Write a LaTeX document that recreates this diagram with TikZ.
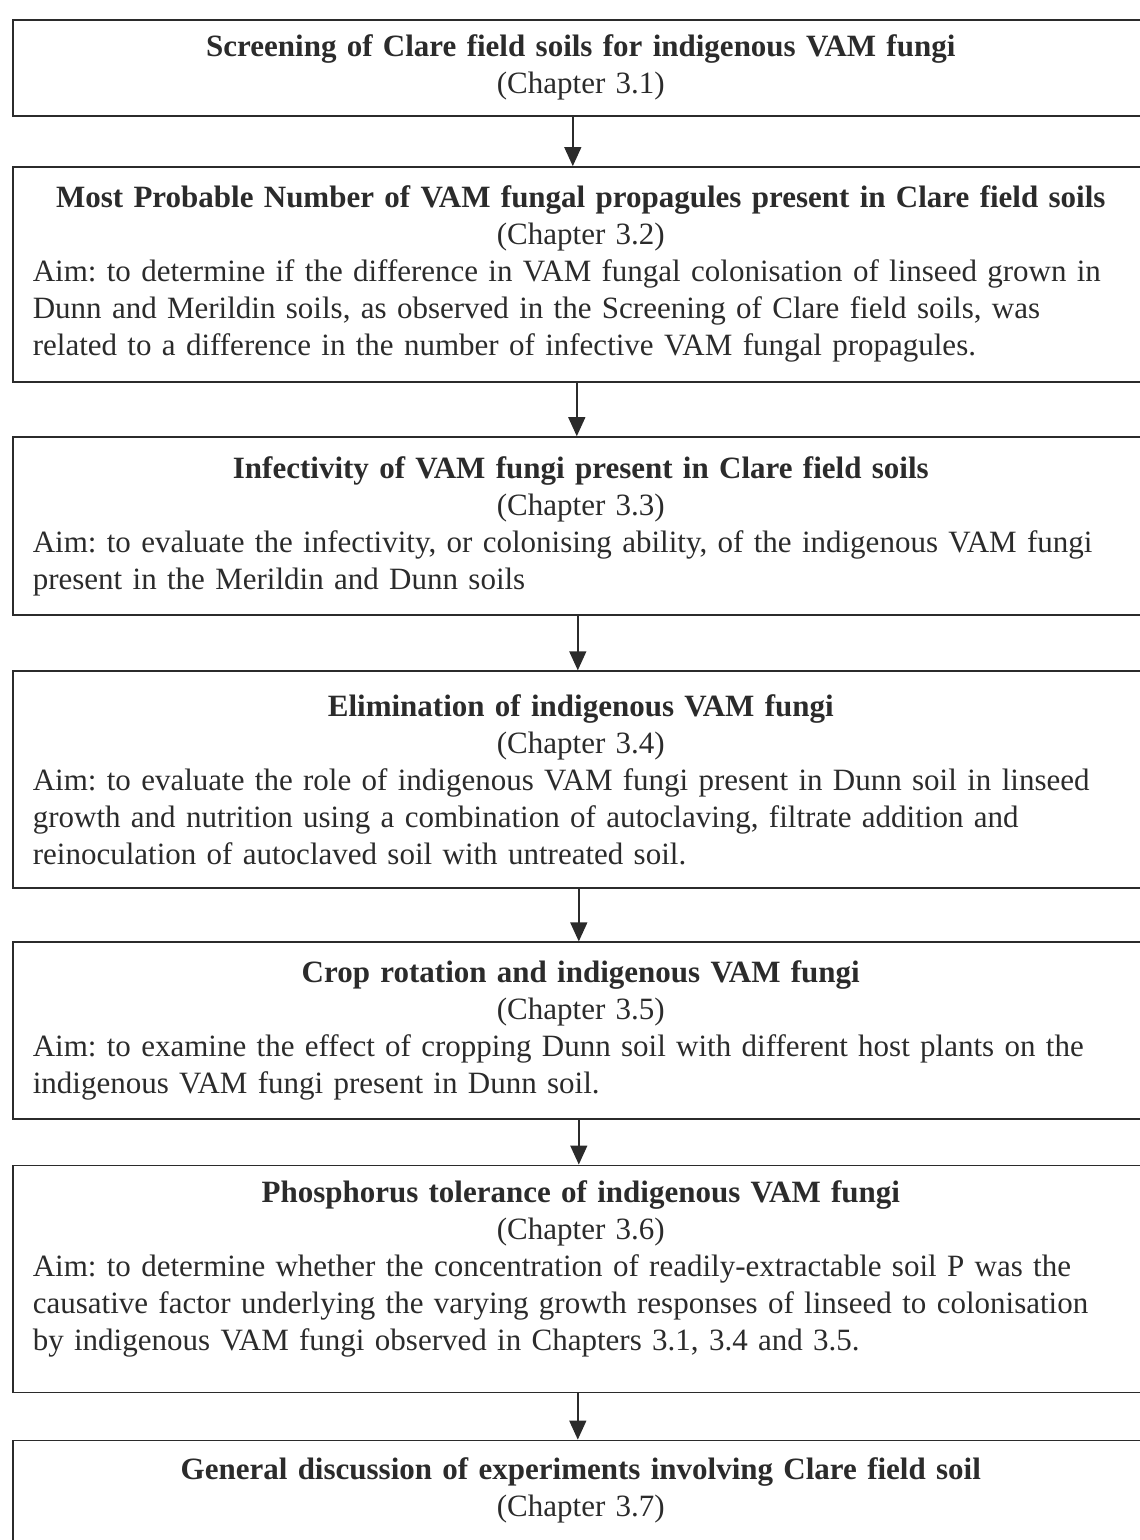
\documentclass[tikz,border=0pt]{standalone}
\usepackage{fontspec}
\setmainfont{Liberation Serif}
\usepackage{xcolor}
\usepackage{tikz}
\usetikzlibrary{arrows.meta,positioning}
\setlength{\parindent}{0pt}
\frenchspacing
\definecolor{inkgrey}{HTML}{2B2B2B}

\begin{document}
\begin{tikzpicture}[
    x=1pt, y=1pt,
    node distance=52pt,
    chapbox/.style={draw=inkgrey, line width=1.6pt, rectangle, anchor=north west, text width=1096pt, inner xsep=20pt, inner ysep=0pt, text=inkgrey, font=\fontsize{31pt}{37pt}\selectfont},
    arrow/.style={-{Triangle[width=17pt,length=19pt]}, line width=1.4pt, draw=inkgrey}
]
    \useasboundingbox (0,0) rectangle (1140,-1540);
    \clip (0,0) rectangle (1140,-1540);

    \node[chapbox, minimum height=96pt] (screen) at (12,-19) {\centering\textbf{Screening of Clare field soils for indigenous VAM fungi}\\(Chapter 3.1)\par};
    \node[chapbox, minimum height=215pt, below=49.5pt of screen.south west, anchor=north west] (mpn) {{\centering\textbf{Most Probable Number of VAM fungal propagules present in Clare field soils}\\(Chapter 3.2)\par}
        \raggedright Aim: to determine if the difference in VAM fungal colonisation of linseed grown in\\Dunn and Merildin soils, as observed in the Screening of Clare field soils, was\\related to a difference in the number of infective VAM fungal propagules.\par};
    \node[chapbox, minimum height=178pt, below=53.5pt of mpn.south west, anchor=north west] (infect) {{\centering\textbf{Infectivity of VAM fungi present in Clare field soils}\\(Chapter 3.3)\par}
        \raggedright Aim: to evaluate the infectivity, or colonising ability, of the indigenous VAM fungi\\present in the Merildin and Dunn soils\par};
    \node[chapbox, minimum height=217pt, below=54.5pt of infect.south west, anchor=north west] (elim) {{\centering\textbf{Elimination of indigenous VAM fungi}\\(Chapter 3.4)\par}
        \raggedright Aim: to evaluate the role of indigenous VAM fungi present in Dunn soil in linseed\\growth and nutrition using a combination of autoclaving, filtrate addition and\\reinoculation of autoclaved soil with untreated soil.\par};
    \node[chapbox, minimum height=177pt, below=52.5pt of elim.south west, anchor=north west] (crop) {{\centering\textbf{Crop rotation and indigenous VAM fungi}\\(Chapter 3.5)\par}
        \raggedright Aim: to examine the effect of cropping Dunn soil with different host plants on the\\indigenous VAM fungi present in Dunn soil.\par};
    \node[chapbox, minimum height=227pt, below=44.5pt of crop.south west, anchor=north west] (phos) {{\centering\textbf{Phosphorus tolerance of indigenous VAM fungi}\\(Chapter 3.6)\par}
        \raggedright Aim: to determine whether the concentration of readily-extractable soil P was the\\causative factor underlying the varying growth responses of linseed to colonisation\\by indigenous VAM fungi observed in Chapters 3.1, 3.4 and 3.5.\par\vspace{20pt}};
    \node[chapbox, minimum height=100pt, below=46.5pt of phos.south west, anchor=north west] (disc) {\centering\textbf{General discussion of experiments involving Clare field soil}\\(Chapter 3.7)\par};

    \draw[arrow] ([xshift=-8pt]screen.south) -- ([xshift=-8pt]mpn.north);
    \draw[arrow] ([xshift=-4pt]mpn.south) -- ([xshift=-4pt]infect.north);
    \draw[arrow] ([xshift=-3pt]infect.south) -- ([xshift=-3pt]elim.north);
    \draw[arrow] ([xshift=-2pt]elim.south) -- ([xshift=-2pt]crop.north);
    \draw[arrow] ([xshift=-2pt]crop.south) -- ([xshift=-2pt]phos.north);
    \draw[arrow] ([xshift=-3pt]phos.south) -- ([xshift=-3pt]disc.north);
\end{tikzpicture}
\end{document}
